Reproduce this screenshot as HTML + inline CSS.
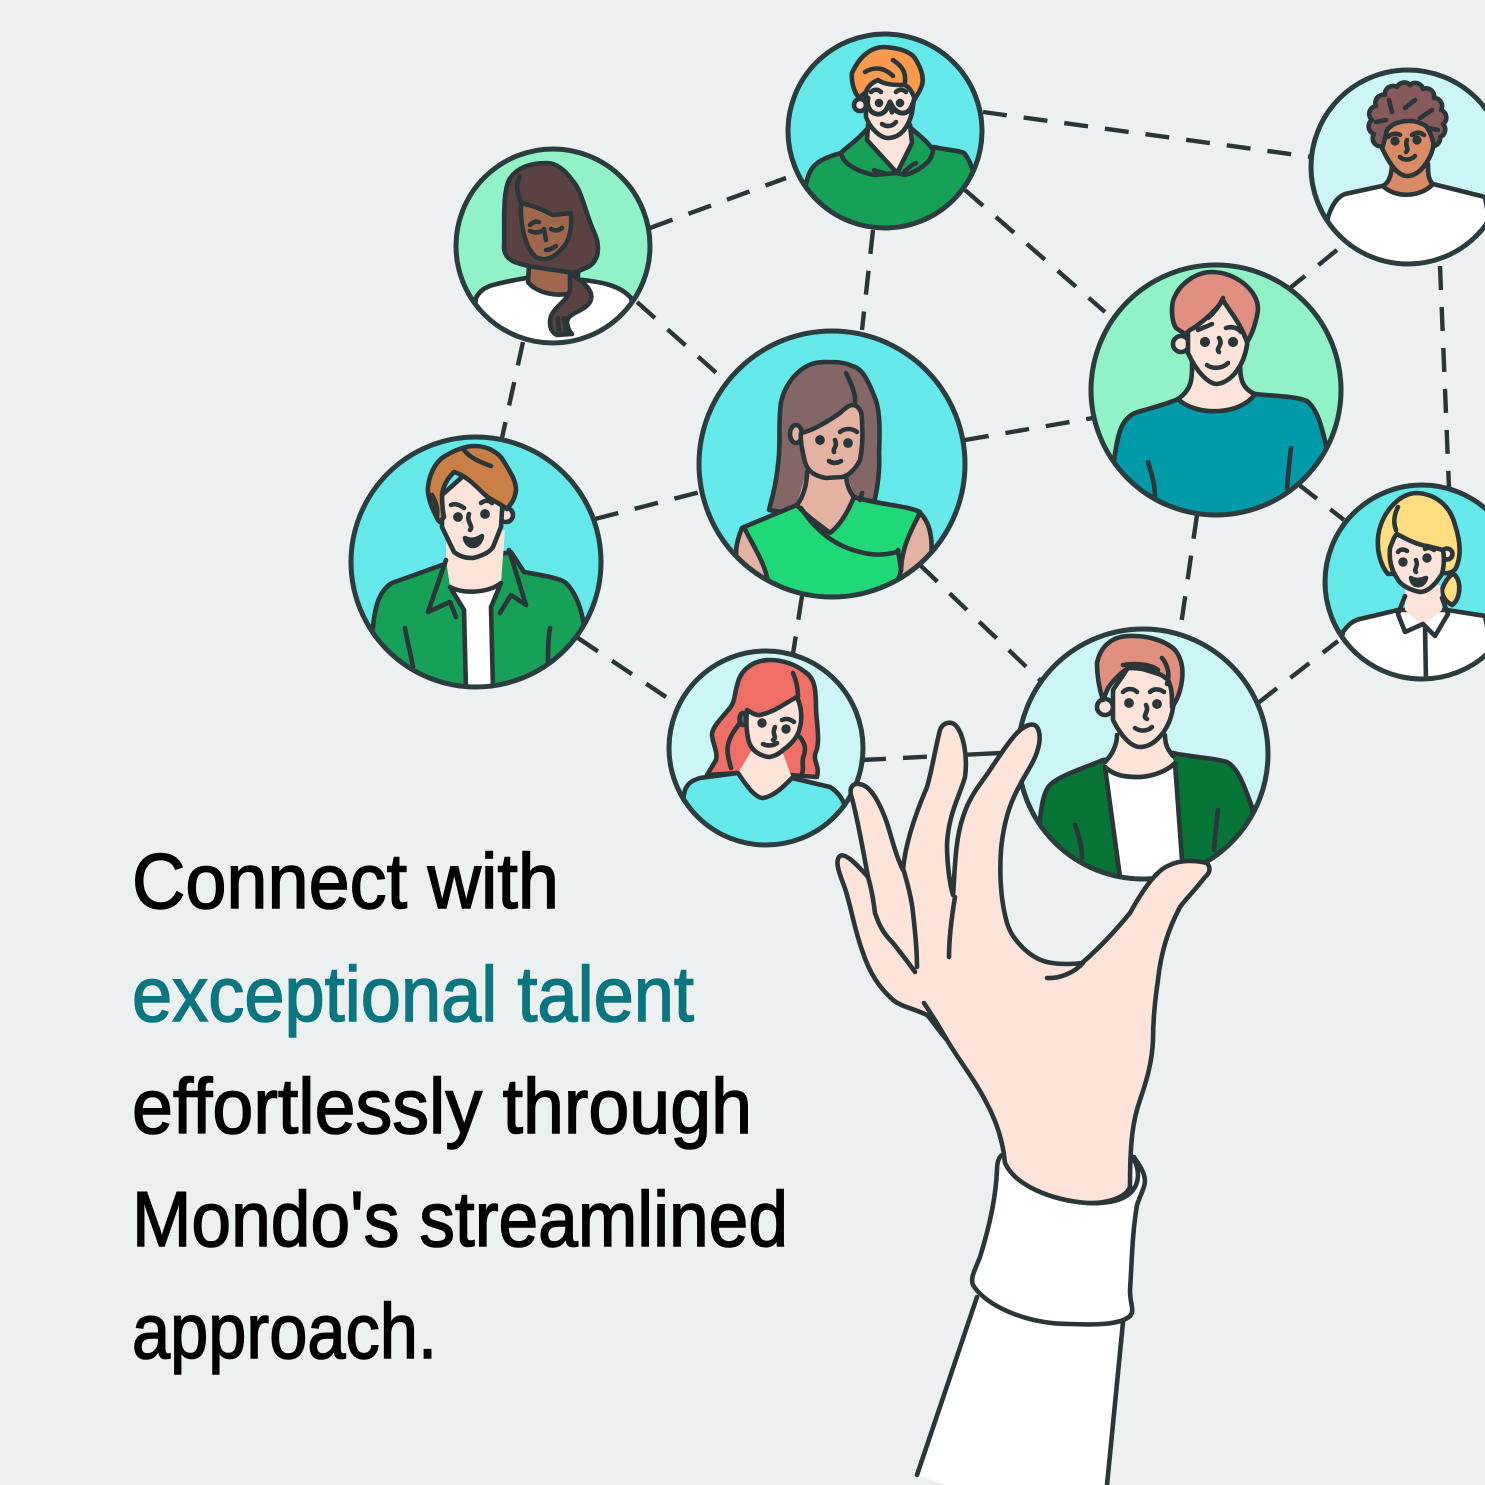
<!DOCTYPE html>
<html><head><meta charset="utf-8"><title>Connect with exceptional talent</title>
<style>html,body{margin:0;padding:0;background:#ecf0f1}svg{display:block}
.s{stroke:#2b3638;stroke-width:4.6;stroke-linecap:round;stroke-linejoin:round}
.n{fill:none}
.r{fill:none;stroke:#2b3d3e;stroke-width:5}
.t{font-family:"Liberation Sans",sans-serif;font-size:78px;stroke-width:1.5px}
</style></head><body>
<svg xmlns="http://www.w3.org/2000/svg" width="1485" height="1485" viewBox="0 0 1485 1485">
<defs>
<clipPath id="cA"><circle cx="553" cy="246" r="97"/></clipPath>
<clipPath id="cB"><circle cx="885" cy="131" r="97"/></clipPath>
<clipPath id="cC"><circle cx="1408" cy="167" r="97"/></clipPath>
<clipPath id="cD"><circle cx="832" cy="464" r="133"/></clipPath>
<clipPath id="cE"><circle cx="1216" cy="390" r="125"/></clipPath>
<clipPath id="cF"><circle cx="476" cy="562" r="125"/></clipPath>
<clipPath id="cG"><circle cx="766" cy="748" r="97"/></clipPath>
<clipPath id="cH"><circle cx="1143" cy="754" r="125"/></clipPath>
<clipPath id="cI"><circle cx="1422" cy="582" r="97"/></clipPath>
</defs>
<rect width="1485" height="1485" fill="#ecf0f1"/>

<!-- connectors -->
<g fill="none" stroke="#2b3638" stroke-width="4.4" stroke-dasharray="24 17">
<path d="M650 228L786 178"/>
<path d="M983 112L1312 157"/>
<path d="M637 302L722 378"/>
<path d="M523 342L502 438"/>
<path d="M873 230L862 330"/>
<path d="M965 190L1105 312"/>
<path d="M1337 250L1290 288"/>
<path d="M1440 266L1449 488"/>
<path d="M965 440L1093 418"/>
<path d="M595 519L700 492"/>
<path d="M802 596L793 654"/>
<path d="M920 565L1040 680"/>
<path d="M1197 515L1180 632"/>
<path d="M1298 484L1344 520"/>
<path d="M578 638L675 703"/>
<path d="M862 760L1020 752" stroke-dasharray="24 17 24 22 200 0"/>
<path d="M1258 703L1338 641"/>
</g>

<!-- A dark-haired woman -->
<circle cx="553" cy="246" r="97" fill="#90f2c6"/>
<g clip-path="url(#cA)" class="s">
<path d="M476 298C482 285 495 284 526 278L583 280C600 282 620 285 631 298L640 350L470 350Z" fill="#fff"/>
<path d="M530 250L528 282C535 292 560 300 578 290L578 250Z" fill="#a0674c"/>
<path d="M547 163C530 163 516 168 509 180C502 195 505 225 504 247C504 262 520 264 534 267L574 273L588 267C600 260 600 245 594 232C585 212 582 190 572 180C565 170 556 163 547 163Z" fill="#5a4242"/>
<path d="M521 203C530 205 540 208 553 215L571 213C572 228 570 238 565 245C555 258 545 262 536 257C525 248 520 225 521 203Z" fill="#a0674c"/>
<path d="M570 274C585 282 595 292 590 302C584 312 568 312 567 322C568 330 570 332 572 334L557 335C550 332 548 322 552 314C558 304 568 300 570 290Z" fill="#5a4242"/>
<path class="n" d="M520 176C515 185 518 195 520 200M558 318L559 332M564 318L566 332"/>
<path class="n" d="M530 231C534 233 538 233 542 231M551 229C555 231 558 231 562 228M530 225C533 222 536 221 539 222M544 229L546 240M546 250C550 250 553 248 556 246"/>
</g>
<circle cx="553" cy="246" r="97" class="r"/>

<!-- B glasses -->
<circle cx="885" cy="131" r="97" fill="#64e8ea"/>
<g clip-path="url(#cB)" class="s">
<path d="M807 180C810 168 815 160 841 153L934 147C945 150 958 150 964 153C970 160 972 168 974 175L985 240H790Z" fill="#17a057"/>
<path d="M868 128C855 143 845 148 841 153C843 165 860 172 874 175L897 173L905 175C915 172 932 164 933 150C928 142 920 136 911 128Z" fill="#17a057"/>
<path d="M868 125L867 140L897 173L912 143L910 125Z" fill="#fde4da"/>
<circle cx="860" cy="105" r="6" fill="#fde4da"/>
<path d="M866 90L866 117C870 128 880 138 888 138C900 138 908 128 912 113L916 85L880 70Z" fill="#fde4da"/>
<path d="M852 73C860 55 872 47 884 47C900 48 912 52 916 60C922 70 924 78 922 85C920 92 916 96 915 99C912 92 910 88 905 85C895 85 885 85 878 80C873 82 868 86 866 92L859 98C854 92 851 82 852 73Z" fill="#f99a4f"/>
<path class="n" d="M865 72C875 66 885 68 893 76M893 60C902 66 906 72 905 82M874 170C878 172 880 172 884 173M904 172C908 168 912 165 916 163"/>
<path class="n" style="stroke-width:5" d="M868 98C866 108 872 115 880 114C886 113 888 106 890 102C892 106 896 114 904 113C910 112 912 106 913 103M890 102L892 112"/>
<path class="n" d="M871 92C874 89 878 89 881 92M896 92C899 89 903 89 906 92M882 124C886 127 892 127 896 122"/>
<circle cx="879" cy="103" r="2" fill="#2b3336"/><circle cx="900" cy="103" r="2" fill="#2b3336"/>
</g>
<circle cx="885" cy="131" r="97" class="r"/>

<!-- C afro -->
<circle cx="1408" cy="167" r="97" fill="#ccf5f5"/>
<g clip-path="url(#cC)" class="s">
<path d="M1328 217C1332 205 1337 197 1345 194L1382 186L1433 184L1485 197L1500 280H1320Z" fill="#fff"/>
<path d="M1392 162C1392 172 1390 182 1383 186C1395 198 1420 198 1433 184C1428 180 1428 172 1428 164Z" fill="#d98b66"/>
<path d="M1382 128L1382 148C1390 165 1398 176 1407 176C1420 176 1430 160 1433 148L1436 125L1405 110Z" fill="#d98b66"/>
<path d="M1383 146A8 8 0 0 1 1374 134A8 8 0 0 1 1372 120A8 8 0 0 1 1376 106A8 8 0 0 1 1385 95A8 8 0 0 1 1397 87A8 8 0 0 1 1410 85A8 8 0 0 1 1423 89A8 8 0 0 1 1434 98A8 8 0 0 1 1441 110A8 8 0 0 1 1443 124A8 8 0 0 1 1440 137A8 8 0 0 1 1434 146C1432 136 1430 132 1426 126C1412 117 1394 121 1387 130Z" fill="#865a5a"/>
<path class="n" d="M1389 100L1392 112M1405 108L1415 100M1420 118L1432 110M1428 128L1438 130M1376 122L1386 120"/>
<path class="n" d="M1388 137C1392 133 1397 133 1400 135M1412 135C1416 132 1420 132 1424 135M1400 157C1404 161 1411 160 1415 156M1407 140C1404 146 1410 148 1406 152"/>
<circle cx="1395" cy="141" r="2.3" fill="#2b3336"/><circle cx="1417" cy="140" r="2.3" fill="#2b3336"/>
</g>
<circle cx="1408" cy="167" r="97" class="r"/>

<!-- D center woman -->
<circle cx="832" cy="464" r="133" fill="#64e8ea"/>
<g clip-path="url(#cD)" class="s">
<path d="M824 362C800 362 784 385 781 403C778 420 781 445 778 465C776 485 772 498 769 510L800 515H871C878 490 880 470 879 453C880 430 880 410 875 398C868 380 862 368 852 366C845 362 835 362 824 362Z" fill="#836666"/>
<path d="M807 470L797 503L830 535L854 497L846 470Z" fill="#e3b2a3" stroke="none"/>
<path d="M807 472C807 485 803 497 797 505M846 472C846 482 848 490 854 497" class="n"/>
<path d="M742 528C735 545 735 555 738 565L770 600L785 570L744 527ZM920 513C930 522 933 540 931 555L900 590L895 560Z" fill="#e3b2a3"/>
<path d="M797 505L744 527C752 545 765 560 770 590L780 610L890 610L901 570C902 545 912 530 920 512C905 505 880 505 854 497C848 512 840 525 830 533C820 525 805 515 797 505Z" fill="#1fd978"/>
<ellipse cx="796" cy="434" rx="6" ry="9" fill="#e3b2a3"/>
<path d="M801 433C815 430 830 420 840 413C845 408 850 405 852 405C858 405 862 410 862 420C863 440 862 450 860 460C855 470 848 476 842 477L826 478C815 476 808 472 805 462C802 450 800 440 801 433Z" fill="#e3b2a3"/>
<path class="n" d="M846 373C852 385 856 395 855 403M801 508C812 525 830 545 860 552C875 556 885 555 897 552M840 432C845 428 852 428 857 432M829 461C833 464 838 463 841 461M835 440C838 447 832 449 834 452M898 550L901 570M862 493L860 500"/>
<circle cx="820" cy="440" r="2.6" fill="#2b3336"/><circle cx="848" cy="443" r="2.6" fill="#2b3336"/>
</g>
<circle cx="832" cy="464" r="133" class="r"/>

<!-- E teal man -->
<circle cx="1216" cy="390" r="125" fill="#90f2c6"/>
<g clip-path="url(#cE)" class="s">
<path d="M1114 460C1118 435 1120 420 1135 413C1150 408 1165 405 1178 399L1255 394C1272 396 1295 396 1307 401C1318 410 1322 428 1326 445L1340 530H1100Z" fill="#009aa8"/>
<path d="M1192 360C1192 375 1194 388 1178 399C1195 416 1240 416 1255 394C1240 388 1240 375 1240 360Z" fill="#fde4da"/>
<circle cx="1181" cy="344" r="8" fill="#fde4da"/>
<path d="M1188 320L1188 353C1198 375 1210 384 1217 384C1232 382 1244 365 1247 345L1250 310L1215 290Z" fill="#fde4da"/>
<path d="M1212 272C1195 272 1178 285 1173 301C1171 310 1172 322 1176 328L1185 334L1190 330C1198 326 1215 312 1223 300C1230 312 1240 322 1247 342C1252 335 1257 320 1258 309C1258 290 1235 272 1212 272Z" fill="#e08f81"/>
<path class="n" d="M1148 462C1152 475 1155 485 1155 496M1291 448C1289 465 1288 475 1287 488M1207 365C1212 369 1222 369 1228 363M1219 338C1224 345 1215 348 1219 352M1198 330C1202 328 1208 326 1212 324M1226 328C1232 326 1238 328 1241 332M1208 318C1215 312 1220 305 1223 298"/>
<circle cx="1205" cy="342" r="2.8" fill="#2b3336"/><circle cx="1233" cy="342" r="2.8" fill="#2b3336"/>
</g>
<circle cx="1216" cy="390" r="125" class="r"/>

<!-- F jacket man -->
<circle cx="476" cy="562" r="125" fill="#64e8ea"/>
<g clip-path="url(#cF)" class="s">
<path d="M373 627C375 605 380 590 392 583L442 565L511 552L524 572C545 576 560 578 566 583C575 592 580 605 583 620L600 700H360Z" fill="#17a057"/>
<path d="M446 540L446 560L450 587C465 595 490 590 501 583L505 530Z" fill="#fde4da" stroke="none"/>
<path d="M450 587C465 595 490 592 501 583L491 607L493 690H466L464 610Z" fill="#fff"/>
<path d="M446 560L428 612L450 602L456 617" class="n"/>
<path d="M509 550L526 605L511 595L500 613" class="n"/>
<circle cx="506" cy="515" r="7" fill="#fde4da"/>
<path d="M442 495L442 527L454 552C462 558 468 558 473 558C482 556 490 552 493 547L501 527L503 495L470 470Z" fill="#fde4da"/>
<path d="M438 520C430 505 427 495 428 487C430 470 438 460 445 456C455 450 465 446 475 446C490 446 500 455 503 460C510 472 516 480 516 490C515 500 510 505 507 509C498 502 490 500 483 493C475 485 465 475 454 472C448 478 443 485 442 495C442 505 443 512 444 517L440 522Z" fill="#c97f45"/>
<path class="n" d="M464 450C470 458 480 462 491 466M432 495C436 502 438 508 437 515M451 505C455 503 460 505 464 508M481 503C485 500 489 500 492 503M469 514C466 522 474 526 470 530M405 628C408 645 411 655 413 667M550 628C548 640 548 650 548 662"/>
<path d="M465 538C470 541 476 540 482 536C481 542 477 546 473 546C469 546 466 543 465 538Z" fill="#2b3336"/>
<circle cx="458" cy="517" r="2.6" fill="#2b3336"/><circle cx="485" cy="514" r="2.6" fill="#2b3336"/>
</g>
<circle cx="476" cy="562" r="125" class="r"/>

<!-- G red-haired -->
<circle cx="766" cy="748" r="97" fill="#ccf5f5"/>
<g clip-path="url(#cG)" class="s">
<path d="M770 660C755 660 742 668 738 682C734 695 735 702 730 708C718 722 712 728 712 735C713 745 718 752 716 760L707 775L738 773L790 775L817 777C820 765 812 760 816 752C820 742 817 725 816 710C816 690 815 678 805 672C795 664 782 660 770 660Z" fill="#ef6f66"/>
<path d="M755 745L738 773C746 785 755 798 763 798C775 796 785 785 792 778L780 745Z" fill="#fde4da" stroke="none"/>
<path d="M685 790C688 782 694 780 700 778L738 773C746 785 755 798 763 798C775 796 785 785 792 778L830 787C838 792 842 798 845 806L860 860H670Z" fill="#64e8ea"/>
<path d="M747 710C752 713 757 716 760 715C775 712 785 703 797 697C802 708 802 720 800 727C798 738 790 745 783 750C778 755 772 757 768 757C758 755 750 750 748 738C746 728 746 720 747 710Z" fill="#fde4da"/>
<path class="n" d="M793 673C797 682 798 690 798 697M740 723C730 735 726 745 728 755C729 762 730 765 731 768M800 737C806 745 806 750 803 758C802 765 804 770 802 773M782 720C786 718 790 719 794 722M763 744C767 746 773 746 777 743M775 727C771 735 778 737 773 740"/>
<ellipse cx="743" cy="719" rx="3.5" ry="6" fill="#53626b"/>
<circle cx="762" cy="723" r="2.4" fill="#2b3336"/><circle cx="786" cy="729" r="2.4" fill="#2b3336"/>
</g>
<circle cx="766" cy="748" r="97" class="r"/>

<!-- I blonde -->
<circle cx="1422" cy="582" r="97" fill="#64e8ea"/>
<g clip-path="url(#cI)" class="s">
<path d="M1343 632C1348 625 1352 621 1360 619L1398 610L1447 610L1485 616L1500 690H1330Z" fill="#fff"/>
<path d="M1442 590C1445 580 1452 572 1455 575C1462 583 1460 600 1452 605C1447 602 1442 598 1442 590Z" fill="#ffdd80"/>
<path d="M1405 590L1405 610L1423 626L1442 610L1440 585Z" fill="#fde4da" stroke="none"/>
<path class="n" d="M1405 596L1398 614L1405 632L1423 624L1435 636L1448 614L1442 598"/>
<path d="M1425 626L1426 682" class="n"/>
<path d="M1378 538C1380 515 1398 493 1417 493C1435 494 1450 505 1455 525C1460 540 1462 555 1456 568C1452 574 1445 574 1440 572L1388 574C1380 565 1377 550 1378 538Z" fill="#ffdd80"/>
<circle cx="1447" cy="554" r="5.5" fill="#fde4da"/>
<path d="M1390 548C1393 540 1395 535 1397 534C1408 540 1418 545 1427 546L1443 550C1445 560 1443 570 1442 574C1435 585 1428 592 1420 592C1410 590 1400 585 1397 578C1390 568 1389 558 1390 548Z" fill="#fde4da"/>
<path class="n" d="M1398 507C1394 515 1393 522 1396 530M1398 552C1400 549 1404 549 1407 551M1425 549C1428 547 1431 548 1434 550M1416 560C1419 567 1413 569 1416 572"/>
<path d="M1411 578C1415 581 1421 580 1426 578C1424 584 1420 586 1417 585C1414 585 1412 582 1411 578Z" fill="#2b3336"/>
<circle cx="1403" cy="562" r="2.4" fill="#2b3336"/><circle cx="1427" cy="558" r="2.4" fill="#2b3336"/>
</g>
<circle cx="1422" cy="582" r="97" class="r"/>

<!-- H pinched man -->
<circle cx="1143" cy="754" r="125" fill="#ccf5f5"/>
<g clip-path="url(#cH)" class="s">
<path d="M1040 820C1042 800 1045 790 1050 785C1060 775 1085 768 1103 760L1173 753C1190 757 1215 758 1227 762C1238 768 1244 785 1252 807L1260 900H1040Z" fill="#067537"/>
<path d="M1105 767C1115 776 1125 777 1140 777C1155 776 1168 770 1175 763L1182 860L1184 890H1124L1120 877Z" fill="#fff"/>
<path d="M1117 725L1115 748L1105 765C1115 776 1125 777 1140 777C1155 776 1168 770 1175 763L1165 743L1165 725Z" fill="#fde4da" stroke="none"/>
<path class="n" d="M1105 767C1115 776 1125 777 1140 777C1155 776 1168 770 1175 763M1117 735C1117 745 1112 755 1105 762M1165 735C1165 745 1168 750 1173 756"/>
<circle cx="1105" cy="707" r="8" fill="#fde4da"/>
<path d="M1113 690L1113 720C1122 738 1132 747 1140 747C1155 747 1168 730 1172 713L1178 680L1130 665Z" fill="#fde4da"/>
<path d="M1097 663C1100 648 1110 637 1128 636C1145 635 1165 640 1175 650C1183 660 1183 672 1182 680C1180 695 1176 702 1172 707C1172 695 1172 688 1168 680C1160 672 1145 668 1128 668C1118 675 1112 682 1108 688L1103 700C1098 685 1097 672 1097 663Z" fill="#e08f81"/>
<path class="n" d="M1123 665C1135 663 1150 664 1158 670M1162 658C1168 665 1170 675 1167 684M1123 692C1127 688 1133 688 1137 692M1150 692C1154 688 1160 689 1164 692M1135 728C1140 732 1148 731 1152 727M1146 705C1150 712 1141 716 1147 719M1075 825C1079 835 1082 848 1082 858M1218 810C1216 825 1215 838 1214 850"/>
<circle cx="1129" cy="703" r="2.6" fill="#2b3336"/><circle cx="1157" cy="704" r="2.6" fill="#2b3336"/>
</g>
<circle cx="1143" cy="754" r="125" class="r"/>

<!-- sleeve and cuff -->
<path d="M917 1475L977 1297L1123 1322L1107 1485H945Z" fill="#fff"/>
<path class="s n" d="M917 1475L977 1297M1123 1322L1107 1485"/>
<path class="s" fill="#fff" d="M1008 1153C1000 1153 997 1160 997 1170C996 1195 990 1225 980 1257C975 1270 970 1278 973 1285C985 1305 1025 1324 1070 1324C1095 1325 1120 1325 1130 1316C1135 1310 1130 1305 1130 1290C1132 1260 1132 1235 1137 1205C1142 1190 1147 1185 1144 1175C1142 1168 1137 1162 1134 1157Z"/>

<!-- hand -->
<path class="s" fill="#fde4da" d="M1005 1163C1003 1140 995 1118 985 1100C975 1080 960 1062 947 1040C938 1030 932 1020 927 1015C912 1008 902 1007 893 1000C880 988 870 975 862 950C853 925 850 900 843 883C838 870 835 860 840 856C846 852 860 868 868 877C863 850 857 815 851 795C849 785 855 782 863 785C875 790 885 815 890 833C895 850 898 860 903 870C905 845 915 815 927 787C932 770 936 745 940 730C943 722 952 720 957 727C963 735 968 755 965 777C960 795 948 815 947 845C947 865 950 885 953 895C955 870 955 840 963 817C970 795 980 785 990 770C1000 755 1010 740 1017 733C1025 725 1033 722 1037 727C1042 735 1040 750 1030 767C1020 785 1005 805 1001 850C999 880 1002 905 1007 923C1012 940 1030 958 1047 962C1060 965 1075 964 1082 963C1105 943 1120 925 1130 913C1140 895 1155 870 1170 865C1180 860 1195 860 1207 863C1211 868 1210 873 1205 877C1195 890 1185 900 1180 907C1165 935 1160 960 1158 980C1155 1000 1153 1020 1153 1040C1152 1065 1145 1085 1140 1100C1133 1120 1130 1140 1130 1187C1125 1200 1100 1204 1087 1203C1050 1200 1015 1185 1005 1163Z"/>
<path class="s n" d="M1087 1203C1115 1204 1130 1198 1136 1185C1140 1175 1137 1165 1134 1160M1047 978C1060 979 1075 972 1083 963M868 877C872 890 874 905 875 913C880 928 885 935 893 943C900 952 908 962 915 972M903 868C908 885 912 900 913 913C915 930 917 950 917 967M955 897C952 915 949 935 949 957M924 1003C932 1015 940 1028 947 1040"/>

<!-- text -->
<g class="t" fill="#000" stroke="#000">
<text x="132" y="908" textLength="427" lengthAdjust="spacingAndGlyphs">Connect with</text>
<text x="132" y="1133" textLength="620" lengthAdjust="spacingAndGlyphs">effortlessly through</text>
<text x="132" y="1246" textLength="656" lengthAdjust="spacingAndGlyphs">Mondo's streamlined</text>
<text x="132" y="1358" textLength="305" lengthAdjust="spacingAndGlyphs">approach.</text>
</g>
<text class="t" x="132" y="1021" fill="#0b7580" stroke="#0b7580" textLength="562" lengthAdjust="spacingAndGlyphs">exceptional talent</text>
</svg>
</body></html>
